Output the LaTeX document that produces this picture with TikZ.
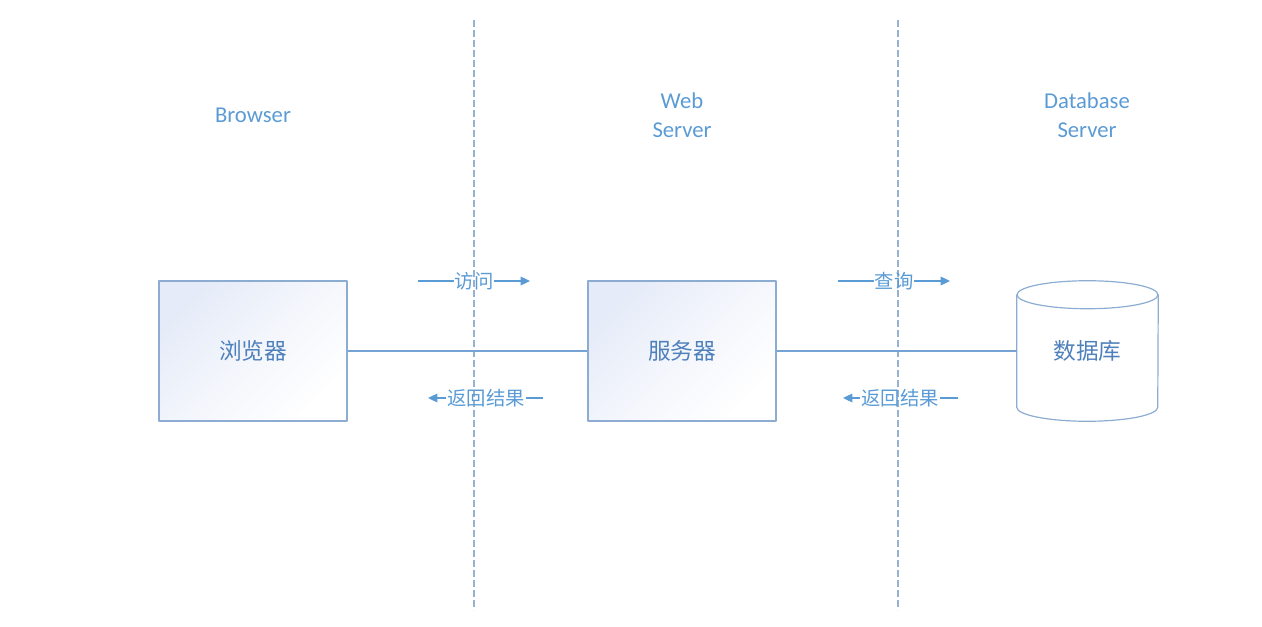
\documentclass[tikz,border=0pt]{standalone}
\usepackage{fontspec}
\setmainfont{Carlito}
\newfontfamily\cjk{Noto Sans CJK SC}
\usetikzlibrary{arrows.meta}
\definecolor{txtblue}{RGB}{91,155,213}
\definecolor{boxtext}{RGB}{78,128,188}
\definecolor{boxline}{RGB}{140,172,210}
\definecolor{boxtint}{RGB}{229,235,248}
\definecolor{linkblue}{RGB}{118,163,214}
\definecolor{dashblue}{RGB}{150,178,206}
\begin{document}
\begin{tikzpicture}[x=0.75pt,y=-0.75pt,>={Triangle[length=7pt,width=6.5pt]},line join=round,
	box/.style={draw=boxline,line width=0.9pt,top color=boxtint,bottom color=white,middle color=white!55!boxtint,shading angle=45,
		minimum width=141pt,minimum height=105pt,inner sep=0pt,text=boxtext,font=\cjk\fontsize{17}{20}\selectfont},
	dbbox/.style={minimum width=105.75pt,minimum height=105pt,inner sep=0pt,text=boxtext,font=\cjk\fontsize{17}{20}\selectfont},
	dbline/.style={draw=boxline,line width=0.9pt},
	tier/.style={text=txtblue,align=center,font=\fontsize{17}{21.75}\selectfont},
	msg/.style={text=txtblue,inner sep=0.6pt,font=\cjk\fontsize{14.5}{17}\selectfont},
	link/.style={draw=linkblue,line width=0.9pt},
	flow/.style={draw=txtblue,line width=0.9pt},
	cut/.style={draw=dashblue,line width=1pt,dash pattern=on 5pt off 2.5pt}]
	\useasboundingbox (0,0) rectangle (1262,627);
	% tier boundaries
	\coordinate (cutAtop) at (474,20);  \coordinate (cutAbot) at (474,610);
	\coordinate (cutBtop) at (898,20);  \coordinate (cutBbot) at (898,610);
	\draw[cut] (cutAtop) -- (cutAbot);
	\draw[cut] (cutBtop) -- (cutBbot);
	% tier titles
	\node[tier] (tBrowser) at (253,115) {Browser};
	\node[tier] (tWeb) at (682,115.5) {Web\\Server};
	\node[tier] (tDb) at (1087,115.5) {Database\\Server};
	% boxes
	\node[box] (browser) at (253,351) {浏览器};
	\node[box] (server) at (682,351) {服务器};
	\node[dbbox] (database) at (1087.5,351) {数据库};
	% the cylinder round the database
	\draw[dbline] ([yshift=-10.5pt]database.north west) -- ([yshift=10.5pt]database.south west)
		arc[start angle=180,end angle=360,x radius=52.875pt,y radius=10.5pt]
		-- ([yshift=-10.5pt]database.north east);
	\draw[dbline] ([yshift=-10.5pt]database.north) ellipse[x radius=52.875pt,y radius=10.5pt];
	\draw[link] (browser) -- (server);
	\draw[link] (server) -- (database);
	% requests and results
	\node[msg] (visit) at (474,281) {访问};
	\coordinate (visitL) at (418,281); \coordinate (visitR) at (530,281);
	\draw[flow] (visitL) -- (visit);
	\draw[flow,->] (visit) -- (visitR);
	\node[msg] (backA) at (486,398) {返回结果};
	\coordinate (backAL) at (428,398); \coordinate (backAR) at (543,398);
	\draw[flow] (backAR) -- (backA);
	\draw[flow,->] (backA) -- (backAL);
	\node[msg] (query) at (894,281) {查询};
	\coordinate (queryL) at (838,281); \coordinate (queryR) at (950,281);
	\draw[flow] (queryL) -- (query);
	\draw[flow,->] (query) -- (queryR);
	\node[msg] (backB) at (900,398) {返回结果};
	\coordinate (backBL) at (843,398); \coordinate (backBR) at (958,398);
	\draw[flow] (backBR) -- (backB);
	\draw[flow,->] (backB) -- (backBL);
\end{tikzpicture}
\end{document}
